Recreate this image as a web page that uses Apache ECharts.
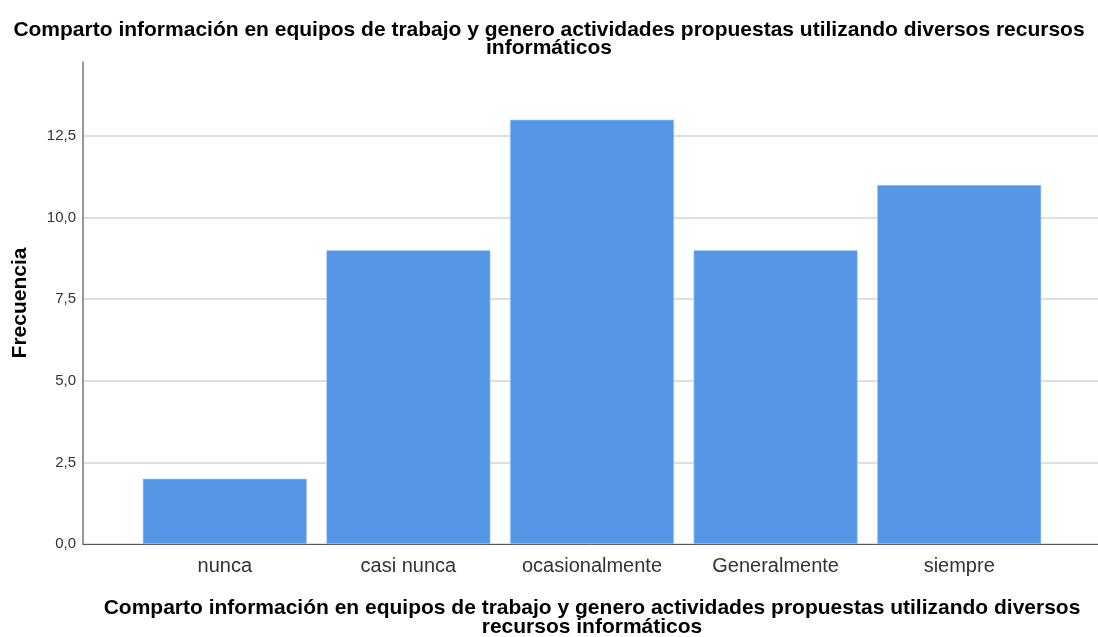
<!DOCTYPE html>
<html><head><meta charset="utf-8">
<script src="https://cdn.jsdelivr.net/npm/echarts@6/dist/echarts.min.js"></script>
<style>html,body{margin:0;padding:0;background:#fff}#c{width:1098px;height:637px}</style>
</head><body><div id="c"></div>
<script>
const categories = ['nunca', 'casi nunca', 'ocasionalmente', 'Generalmente', 'siempre'];
const frecuencia = [2, 9, 13, 9, 11];
const titleText = 'Comparto información en equipos de trabajo y genero actividades propuestas utilizando diversos recursos\ninformáticos';
const xName = 'Comparto información en equipos de trabajo y genero actividades propuestas utilizando diversos\nrecursos informáticos';
const yName = 'Frecuencia';

const chart = echarts.init(document.getElementById('c'));
const F = '"Liberation Sans", Arial, sans-serif';
chart.setOption({
  animation: false,
  title: {
    text: titleText, left: 'center', top: 16,
    textStyle: { fontFamily: F, fontSize: 21, fontWeight: 'bold', color: '#000', lineHeight: 18 }
  },
  grid: [
    { left: 83, right: 0, top: 62, bottom: 93, outerBoundsMode: 'none' },
    { left: 133, right: 47, top: 62, bottom: 93, outerBoundsMode: 'none' }
  ],
  xAxis: [
    { type: 'value', gridIndex: 0, min: 0, max: 1, show: true,
      axisLine: { show: true, lineStyle: { color: '#555', width: 1 } },
      axisTick: { show: false }, axisLabel: { show: false }, splitLine: { show: false } },
    { type: 'category', gridIndex: 1, data: categories,
      axisLine: { show: false }, axisTick: { show: false },
      axisLabel: { fontFamily: F, fontSize: 20, color: '#333', margin: 12 },
      name: xName, nameLocation: 'middle', nameGap: 55,
      nameTextStyle: { fontFamily: F, fontSize: 21, fontWeight: 'bold', color: '#000', lineHeight: 19 } }
  ],
  yAxis: [
    { type: 'value', gridIndex: 0, min: 0, max: 14.77, interval: 2.5,
      axisLine: { show: true, lineStyle: { color: '#777', width: 1.5 } },
      axisTick: { show: false },
      axisLabel: { fontFamily: F, fontSize: 15, color: '#333', margin: 7, showMaxLabel: false,
        formatter: v => (v > 14 ? '' : v.toFixed(1).replace('.', ',')) },
      splitLine: { show: true, showMaxLine: false, lineStyle: { color: '#d4d4d4', width: 1.5 } },
      name: yName, nameLocation: 'middle', nameGap: 52,
      nameTextStyle: { fontFamily: F, fontSize: 21, fontWeight: 'bold', color: '#000' } },
    { type: 'value', gridIndex: 1, min: 0, max: 14.77, show: false }
  ],
  series: [{
    type: 'bar', xAxisIndex: 1, yAxisIndex: 1, data: frecuencia, barWidth: 164,
    itemStyle: { color: '#5596e6', borderColor: '#a9c9f2', borderWidth: 0.6 }
  }]
});
</script></body></html>
